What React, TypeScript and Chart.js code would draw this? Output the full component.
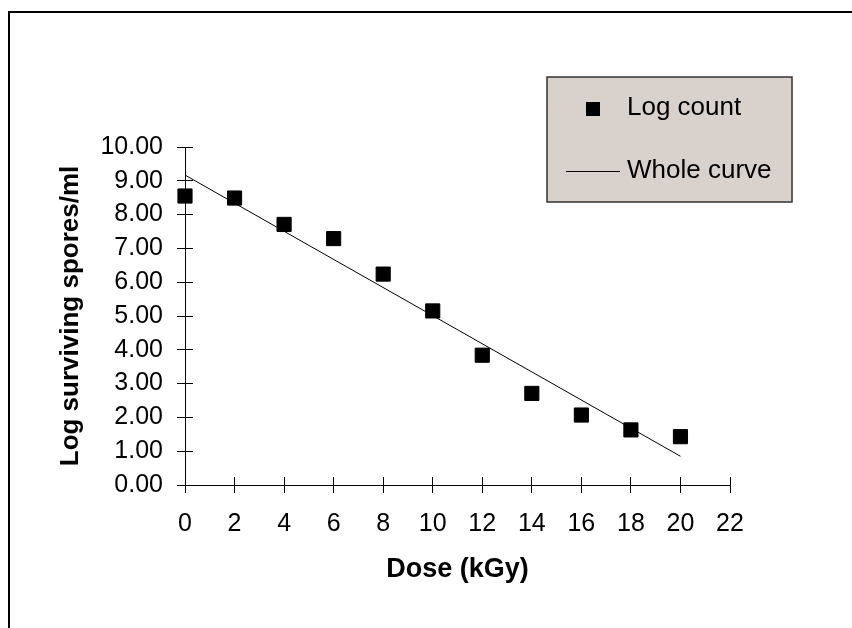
import { useEffect, useRef } from 'react';
import { Chart, registerables } from 'chart.js';

Chart.register(...registerables);

// ---- data ----
const doseKGy = [0, 2, 4, 6, 8, 10, 12, 14, 16, 18, 20];
const logCount = [8.55, 8.49, 7.71, 7.29, 6.24, 5.15, 3.84, 2.71, 2.07, 1.63, 1.43];
const curveDose = [0, 20];
const curveLog = [9.17, 0.85];
const seriesLabels = ['Log count', 'Whole curve'];
const xAxisTitle = 'Dose (kGy)';
const yAxisTitle = 'Log surviving spores/ml';
const xRange = [0, 22];
const yRange = [0, 10];

const W = 852;
const H = 628;
const FONT = '"Liberation Sans", Arial, Helvetica, sans-serif';

export default function App() {
  const ref = useRef<HTMLCanvasElement>(null);

  useEffect(() => {
    document.body.style.margin = '0';
    const canvas = ref.current!;
    Chart.defaults.font.family = FONT;

    const frame = {
      id: 'frame',
      beforeDraw(chart: any) {
        const c = chart.ctx;
        c.save();
        c.fillStyle = '#ffffff';
        c.fillRect(0, 0, W, H);
        c.strokeStyle = '#000000';
        c.lineWidth = 2;
        c.strokeRect(9, 12, W + 40, H + 40);
        c.restore();
      },
    };

    const align = (p: number) => Math.round(p - 0.5) + 0.5;

    const innerTicks = {
      id: 'innerTicks',
      beforeDatasetsDraw(chart: any) {
        const { ctx, chartArea, scales } = chart;
        const x = scales.x;
        const y = scales.y;
        ctx.save();
        ctx.strokeStyle = '#000000';
        ctx.lineWidth = 1;
        ctx.beginPath();
        x.ticks.forEach((t: any) => {
          const px = align(x.getPixelForValue(t.value));
          ctx.moveTo(px, chartArea.bottom);
          ctx.lineTo(px, chartArea.bottom - 8);
        });
        y.ticks.forEach((t: any) => {
          const py = align(y.getPixelForValue(t.value));
          ctx.moveTo(chartArea.left, py);
          ctx.lineTo(chartArea.left + 8, py);
        });
        ctx.stroke();
        ctx.restore();
      },
    };

    const legendBox = {
      id: 'legendBox',
      afterDraw(chart: any) {
        const ctx = chart.ctx;
        const ds = chart.data.datasets;
        const bx = 547, by = 77, bw = 245, bh = 125;
        ctx.save();
        ctx.fillStyle = '#d8d1cc';
        ctx.fillRect(bx, by, bw, bh);
        ctx.strokeStyle = '#333333';
        ctx.lineWidth = 1.5;
        ctx.strokeRect(bx, by, bw, bh);

        // item 1: square marker
        ctx.fillStyle = ds[0].backgroundColor;
        ctx.fillRect(593 - 7, 109 - 7, 14, 14);
        // item 2: line sample
        ctx.strokeStyle = ds[1].borderColor;
        ctx.lineWidth = 1;
        ctx.beginPath();
        ctx.moveTo(566, 171.5);
        ctx.lineTo(620, 171.5);
        ctx.stroke();

        ctx.fillStyle = '#000000';
        ctx.font = `26px ${FONT}`;
        ctx.textAlign = 'left';
        ctx.textBaseline = 'middle';
        ctx.fillText(ds[0].label, 627, 108);
        ctx.fillText(ds[1].label, 627, 171);
        ctx.restore();
      },
    };

    const chart = new Chart(canvas, {
      type: 'scatter',
      data: {
        datasets: [
          {
            label: seriesLabels[0],
            data: doseKGy.map((x, i) => ({ x, y: logCount[i] })),
            pointStyle: 'rect',
            pointRadius: 10,
            backgroundColor: '#000000',
            borderColor: '#000000',
            borderWidth: 1,
            clip: false,
          } as any,
          {
            label: seriesLabels[1],
            data: curveDose.map((x, i) => ({ x, y: curveLog[i] })),
            showLine: true,
            pointRadius: 0,
            borderColor: '#000000',
            backgroundColor: '#000000',
            borderWidth: 1,
            clip: false,
          } as any,
        ],
      },
      options: {
        responsive: false,
        animation: false,
        devicePixelRatio: 1,
        layout: { padding: { left: 0, top: 147, right: 122, bottom: 0 } },
        plugins: { legend: { display: false }, tooltip: { enabled: false } },
        scales: {
          x: {
            type: 'linear',
            min: xRange[0],
            max: xRange[1],
            ticks: {
              stepSize: 2,
              color: '#000000',
              font: { size: 25 },
              padding: 16,
              maxRotation: 0,
              autoSkip: false,
            },
            grid: { drawOnChartArea: false, drawTicks: true, tickLength: 8, color: '#000000' },
            border: { display: true, color: '#000000' },
            title: {
              display: true,
              text: xAxisTitle,
              color: '#000000',
              font: { size: 27, weight: 'bold' },
              padding: { top: 0, bottom: 42 },
            },
            afterFit(s: any) {
              s.height = 143;
            },
          },
          y: {
            type: 'linear',
            min: yRange[0],
            max: yRange[1],
            ticks: {
              stepSize: 1,
              color: '#000000',
              font: { size: 25 },
              padding: 14,
              callback: (v: any) => Number(v).toFixed(2),
            },
            grid: { drawOnChartArea: false, drawTicks: true, tickLength: 8, color: '#000000' },
            border: { display: true, color: '#000000' },
            title: {
              display: true,
              text: yAxisTitle,
              color: '#000000',
              font: { size: 26, weight: 'bold' },
              padding: { top: 55, bottom: 0 },
            },
            afterFit(s: any) {
              s.width = 185;
            },
          },
        },
      } as any,
      plugins: [frame, innerTicks, legendBox],
    });

    return () => chart.destroy();
  }, []);

  return (
    <div style={{ width: W, height: H }}>
      <canvas ref={ref} width={W} height={H} style={{ display: 'block' }} />
    </div>
  );
}
